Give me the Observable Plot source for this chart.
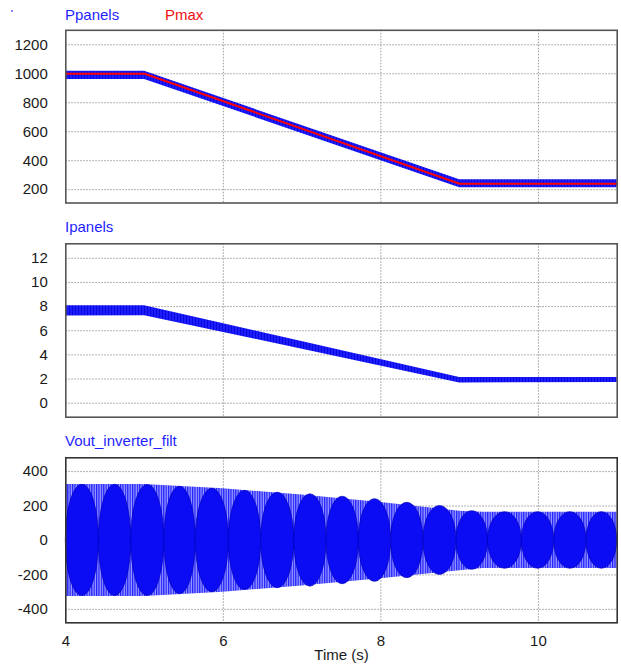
<!DOCTYPE html>
<html>
<head>
<meta charset="utf-8">
<script src="https://cdn.jsdelivr.net/npm/d3@7"></script>
<script src="https://cdn.jsdelivr.net/npm/@observablehq/plot@0.6"></script>
<style>
  body { margin: 0; background: #fff; }
  #wrap { position: relative; width: 621px; height: 665px; font-family: "Liberation Sans", Arial, sans-serif; }
  .panel { position: absolute; left: 0; }
  .title { position: absolute; font-size: 15px; line-height: 15px; white-space: nowrap; }
</style>
</head>
<body>
<svg width="0" height="0" style="position:absolute">
  <defs>
    <pattern id="vstripes" patternUnits="userSpaceOnUse" width="2.4" height="10">
      <rect width="2.4" height="10" fill="#9c9cff"/>
      <rect width="1.2" height="10" fill="#1e1eff"/>
    </pattern>
    <pattern id="bandstripes" patternUnits="userSpaceOnUse" width="3" height="10">
      <rect width="3" height="10" fill="#1c1cff"/>
      <rect width="1" height="10" fill="#0808d8"/>
    </pattern>
  </defs>
</svg>
<div id="wrap">
  <div style="position:absolute;left:11px;top:10px;width:2px;height:2px;background:#8a8aff"></div>
  <div class="title" style="left:65px;top:7px;color:#1f1fff">Ppanels</div>
  <div class="title" style="left:165px;top:7px;color:#ee1111">Pmax</div>
  <div class="title" style="left:65px;top:219px;color:#1f1fff">Ipanels</div>
  <div class="title" style="left:65px;top:433px;color:#1f1fff">Vout_inverter_filt</div>
</div>
<script>
// ---- data ----
const xTicks = [4, 6, 8, 10];

// Ppanels / Pmax (W)
const pTime = [4, 5, 9, 11];
const pmax = [1000, 1000, 241, 241];
const ppanelsHigh = [1017, 1017, 268, 268];
const ppanelsLow = [961, 961, 214, 214];
const pTicks = [200, 400, 600, 800, 1000, 1200];

// Ipanels (A)
const iTime = [4, 5, 9, 11];
const ipanelsHigh = [8.08, 8.08, 2.12, 2.12];
const ipanelsLow = [7.22, 7.25, 1.68, 1.72];
const iTicks = [0, 2, 4, 6, 8, 10, 12];

// Vout_inverter_filt (V) envelope
const vTime = [4, 5, 6, 7, 8, 9, 9.3, 11];
const voutHigh = [325, 325, 300, 264, 220, 170, 164, 164];
const voutLow = [-326, -326, -300, -264, -222, -176, -163, -163];
const vTicks = [-400, -200, 0, 200, 400];
// visible beat lobes: boundaries (s) and peak amplitude (V)
const lobeBounds = [4.0, 4.42, 4.83, 5.25, 5.65, 6.07, 6.48, 6.90, 7.31, 7.72, 8.13, 8.54, 8.96, 9.36, 9.79, 10.20, 10.61, 11.0];
const lobePeak = [323, 323, 322, 312, 300, 288, 277, 268, 254, 240, 219, 200, 170, 164, 164, 164, 164];

// ---- tables ----
const pTable = pTime.map((t, i) => ({t, pmax: pmax[i], hi: ppanelsHigh[i], lo: ppanelsLow[i]}));
const iTable = iTime.map((t, i) => ({t, hi: ipanelsHigh[i], lo: ipanelsLow[i]}));
const vTable = vTime.map((t, i) => ({t, hi: voutHigh[i], lo: voutLow[i]}));
const lobes = lobePeak.map((a, i) => ({t0: lobeBounds[i], t1: lobeBounds[i + 1], a}));

const W = 621;
const fmt = d => String(d);
const common = {
  width: W,
  marginLeft: 65.3,
  marginRight: 4.3,
  style: {fontSize: "15px", fontFamily: "Liberation Sans, Arial, sans-serif", color: "#1a1a1a", background: "transparent", overflow: "visible"}
};
const gridStyle = {stroke: "#9a9a9a", strokeWidth: 1, strokeDasharray: "1.5,1.5"};
const frameStyle = {stroke: "#555", strokeWidth: 1.6};

function place(svg, top) {
  svg.classList.add("panel");
  svg.style.position = "absolute";
  svg.style.top = top + "px";
  svg.style.left = "0px";
  document.getElementById("wrap").appendChild(svg);
}

// Panel 1
place(Plot.plot({
  ...common,
  height: 215,
  marginTop: 29.8,
  marginBottom: 12.5,
  x: {domain: [4, 11], axis: null},
  y: {domain: [108, 1300], ticks: pTicks, tickFormat: fmt, tickSize: 0, tickPadding: 18, label: null},
  marks: [
    Plot.ruleY(pTicks, gridStyle),
    Plot.ruleX(xTicks.slice(1), gridStyle),
    Plot.areaY(pTable, {x: "t", y1: "lo", y2: "hi", fill: "url(#bandstripes)"}),
    Plot.line(pTable, {x: "t", y: "pmax", stroke: "#ff0000", strokeWidth: 2}),
    Plot.frame(frameStyle)
  ]
}), 0);

// Panel 2
place(Plot.plot({
  ...common,
  height: 215,
  marginTop: 28.3,
  marginBottom: 13.3,
  x: {domain: [4, 11], axis: null},
  y: {domain: [-1.16, 13.2], ticks: iTicks, tickFormat: fmt, tickSize: 0, tickPadding: 18, label: null},
  marks: [
    Plot.ruleY(iTicks, gridStyle),
    Plot.ruleX(xTicks.slice(1), gridStyle),
    Plot.areaY(iTable, {x: "t", y1: "lo", y2: "hi", fill: "url(#bandstripes)"}),
    Plot.frame(frameStyle)
  ]
}), 215);

// Panel 3
place(Plot.plot({
  ...common,
  height: 235,
  marginTop: 27.3,
  marginBottom: 42.7,
  x: {domain: [4, 11], ticks: xTicks, tickFormat: fmt, tickSize: 0, tickPadding: 12.7, label: null},
  y: {domain: [-478, 480], ticks: vTicks, tickFormat: fmt, tickSize: 0, tickPadding: 18, label: null},
  marks: [
    Plot.ruleY(vTicks, gridStyle),
    Plot.ruleX(xTicks.slice(1), gridStyle),
    Plot.areaY(vTable, {x: "t", y1: "lo", y2: "hi", fill: "url(#vstripes)"}),
    Plot.rect(lobes, {x1: "t0", x2: "t1", y1: d => -d.a, y2: "a", rx: 999, ry: 999, fill: "#0c0cf4", stroke: "#0000b8", strokeWidth: 0.7}),
    Plot.text(["Time (s)"], {frameAnchor: "bottom", dy: 37, fill: "#1a1a1a", fontSize: 15}),
    Plot.frame({stroke: "#333", strokeWidth: 1.6})
  ]
}), 430);
</script>
</body>
</html>
